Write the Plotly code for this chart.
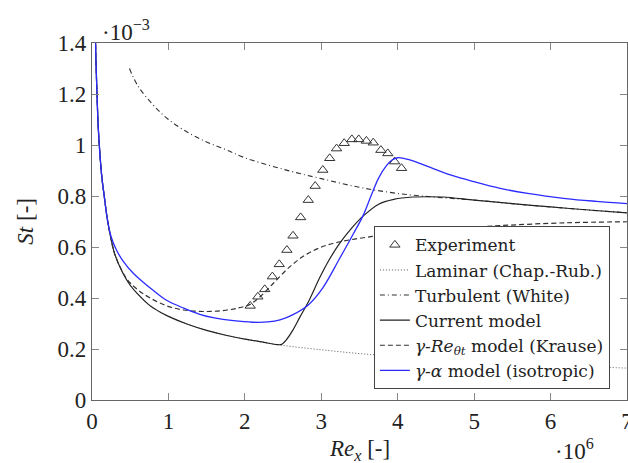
import plotly.graph_objects as go

# Experimental data (Re_x in 1e6, St in 1e-3)
exp_x = [2.07, 2.17, 2.26, 2.36, 2.45, 2.55, 2.63, 2.73, 2.83, 2.92, 3.02, 3.11,
         3.20, 3.30, 3.40, 3.49, 3.59, 3.68, 3.78, 3.87, 3.96, 4.05]
exp_y = [0.369, 0.405, 0.434, 0.484, 0.532, 0.588, 0.644, 0.716, 0.784, 0.839, 0.902, 0.948,
         0.986, 1.007, 1.022, 1.022, 1.016, 1.009, 0.980, 0.967, 0.935, 0.909]

lam_x = [0.04, 0.05, 0.06, 0.08, 0.10, 0.13, 0.16, 0.20, 0.25, 0.30, 0.40, 0.50, 0.60, 0.75,
         0.90, 1.0, 1.25, 1.5, 1.75, 2.0, 2.25, 2.5, 3.0, 3.5, 4.0, 4.5, 5.0, 5.5, 6.0, 6.5, 7.0]
lam_y = [1.52, 1.35, 1.25, 1.08, 0.98, 0.87, 0.80, 0.71, 0.63, 0.57, 0.50, 0.45, 0.415, 0.372,
         0.343, 0.328, 0.297, 0.273, 0.254, 0.239, 0.226, 0.214, 0.197, 0.182, 0.170, 0.160,
         0.151, 0.144, 0.137, 0.131, 0.125]

tu_x = [0.49, 0.6, 0.8, 1.0, 1.25, 1.5, 1.75, 2.0, 2.5, 3.0, 3.5, 4.0, 4.5, 5.0, 5.5, 6.0, 6.5, 7.0]
tu_y = [1.30, 1.232, 1.157, 1.10, 1.05, 1.012, 0.982, 0.950, 0.905, 0.868, 0.834, 0.810,
        0.795, 0.784, 0.770, 0.757, 0.745, 0.734]

cur_x = [0.04, 0.05, 0.06, 0.08, 0.10, 0.13, 0.16, 0.20, 0.25, 0.30, 0.40, 0.50, 0.60, 0.75,
         0.90, 1.0, 1.25, 1.5, 1.75, 2.0, 2.25, 2.42, 2.48, 2.54, 2.62, 2.72, 2.84, 2.98,
         3.1, 3.24, 3.4, 3.55, 3.75, 3.95, 4.2, 4.4, 4.6, 5.0, 5.5, 6.0, 6.5, 7.0]
cur_y = [1.52, 1.35, 1.25, 1.08, 0.98, 0.87, 0.80, 0.71, 0.63, 0.57, 0.50, 0.45, 0.415, 0.372,
         0.343, 0.328, 0.297, 0.273, 0.254, 0.239, 0.226, 0.217, 0.218, 0.235, 0.27, 0.325,
         0.39, 0.48, 0.548, 0.614, 0.675, 0.722, 0.768, 0.787, 0.796, 0.797, 0.796, 0.784,
         0.770, 0.757, 0.745, 0.734]

kr_x = [0.04, 0.05, 0.06, 0.08, 0.10, 0.13, 0.16, 0.20, 0.25, 0.30, 0.45, 0.6, 0.75,
        0.97, 1.2, 1.5, 1.75, 1.93, 2.06, 2.2, 2.37, 2.59, 2.81, 3.07, 3.375, 3.68, 3.94,
        4.47, 5.0, 5.34, 6.2, 7.0]
kr_y = [1.52, 1.35, 1.25, 1.08, 0.98, 0.87, 0.80, 0.71, 0.63, 0.57, 0.477, 0.432, 0.402,
        0.370, 0.353, 0.347, 0.352, 0.362, 0.374, 0.405, 0.457, 0.523, 0.572, 0.607, 0.628,
        0.642, 0.656, 0.668, 0.678, 0.684, 0.695, 0.699]

ga_x = [0.04, 0.05, 0.06, 0.08, 0.10, 0.13, 0.16, 0.20, 0.25, 0.32, 0.40, 0.54, 0.64,
        0.8, 0.97, 1.2, 1.41, 1.6, 1.85, 2.1, 2.3, 2.46, 2.63, 2.83, 3.02, 3.24, 3.42,
        3.55, 3.65, 3.75, 3.85, 3.93, 4.0, 4.1, 4.2, 4.4, 4.7, 5.0, 5.34, 5.7, 6.2, 6.6, 7.0]
ga_y = [1.52, 1.35, 1.25, 1.08, 0.98, 0.87, 0.80, 0.71, 0.64, 0.588, 0.548, 0.497, 0.47,
        0.43, 0.392, 0.36, 0.336, 0.322, 0.311, 0.305, 0.306, 0.314, 0.335, 0.373, 0.44,
        0.555, 0.652, 0.725, 0.80, 0.87, 0.918, 0.942, 0.95, 0.946, 0.938, 0.915, 0.882,
        0.856, 0.83, 0.81, 0.79, 0.779, 0.770]

x_ticks = [0, 1, 2, 3, 4, 5, 6, 7]
x_ticktext = ["0", "1", "2", "3", "4", "5", "6", "7"]
y_ticks = [0, 0.2, 0.4, 0.6, 0.8, 1.0, 1.2, 1.4]
y_ticktext = ["0", "0.2", "0.4", "0.6", "0.8", "1", "1.2", "1.4"]

FONT = "Liberation Serif"
LEG_FONT = "DejaVu Serif"
SM = 1.0

fig = go.Figure()
fig.add_trace(go.Scatter(x=exp_x, y=exp_y, mode="markers", name="Experiment",
                         marker=dict(symbol="triangle-up-open", size=9, color="#333",
                                     line=dict(width=1, color="#333"))))
fig.add_trace(go.Scatter(x=lam_x, y=lam_y, mode="lines", name="Laminar (Chap.-Rub.)",
                         line=dict(color="#555", width=1, dash="1px,2px", shape="spline", smoothing=SM)))
fig.add_trace(go.Scatter(x=tu_x, y=tu_y, mode="lines", name="Turbulent (White)",
                         line=dict(color="#333", width=1.1, dash="5px,3px,1px,3px", shape="spline", smoothing=SM)))
fig.add_trace(go.Scatter(x=cur_x, y=cur_y, mode="lines", name="Current model",
                         line=dict(color="#222", width=1.2, shape="spline", smoothing=0.8)))
fig.add_trace(go.Scatter(x=kr_x, y=kr_y, mode="lines",
                         name="<i>γ</i>-<i>Re</i><sub><i>θt</i></sub> model (Krause)",
                         line=dict(color="#333", width=1.2, dash="5px,3px", shape="spline", smoothing=SM)))
fig.add_trace(go.Scatter(x=ga_x, y=ga_y, mode="lines",
                         name="<i>γ</i>-<i>α</i> model (isotropic)",
                         line=dict(color="#2b2bff", width=1.3, shape="spline", smoothing=SM)))

axis_common = dict(showgrid=False, zeroline=False, showline=True, linecolor="#666", linewidth=1.2,
                   mirror="allticks", ticks="inside", ticklen=7, tickcolor="#888", tickwidth=1,
                   tickfont=dict(family=FONT, size=23, color="#222"), automargin=False)

fig.update_xaxes(range=[0, 7], tickvals=x_ticks, ticktext=x_ticktext,
                 ticklabeloverflow="allow", **axis_common)
fig.update_yaxes(range=[0, 1.4], tickvals=y_ticks, ticktext=y_ticktext, **axis_common)

ann_font = dict(family=FONT, size=23, color="#222")
fig.update_layout(
    template="none",
    width=628, height=463,
    margin=dict(l=92, r=1, t=43, b=63),
    showlegend=True,
    legend=dict(x=0.968, y=0.03, xanchor="right", yanchor="bottom",
                bgcolor="white", bordercolor="#444", borderwidth=1,
                font=dict(family=LEG_FONT, size=17, color="#222")),
    annotations=[
        dict(text="·10<sup>−3</sup>", xref="paper", yref="paper", x=0.015, y=1.036,
             xanchor="left", yanchor="middle", showarrow=False, font=ann_font),
        dict(text="·10<sup>6</sup>", xref="paper", yref="paper", x=0.901, y=-0.14,
             xanchor="center", yanchor="middle", showarrow=False, font=ann_font),
        dict(text="<i>Re<sub>x</sub></i> [-]", xref="paper", yref="paper", x=0.5, y=-0.14,
             xanchor="center", yanchor="middle", showarrow=False, font=ann_font),
        dict(text="<i>St</i> [-]", xref="paper", yref="paper", x=-0.125, y=0.5,
             xanchor="center", yanchor="middle", showarrow=False, textangle=-90, font=ann_font),
    ],
)

fig.write_html("out.html")
